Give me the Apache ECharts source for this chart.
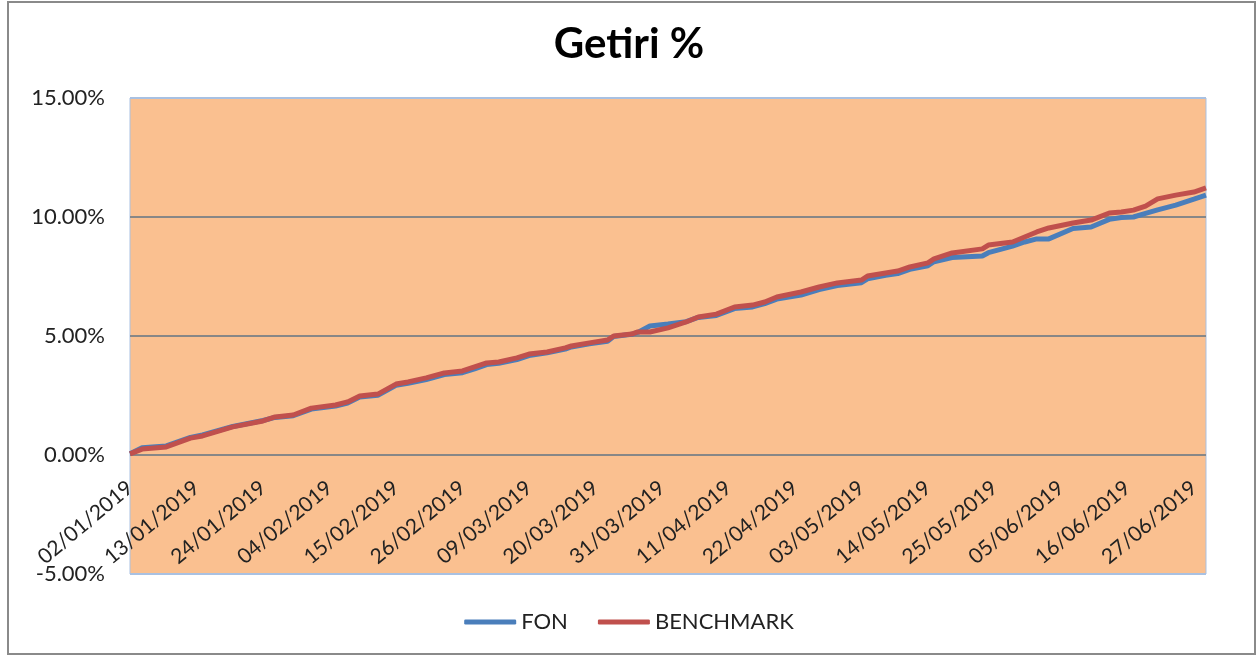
<!DOCTYPE html>
<html>
<head>
<meta charset="utf-8">
<script src="https://cdn.jsdelivr.net/npm/echarts@6/dist/echarts.min.js"></script>
<style>
html,body{margin:0;padding:0;background:#fff;}
#chart{width:1258px;height:657px;}
</style>
</head>
<body>
<div id="chart"></div>
<script>
const title = 'Getiri %';
const seriesNames = ['FON', 'BENCHMARK'];
const startDate = '02/01/2019';
const endDate = '29/06/2019';
const tickLabels = ['02/01/2019','13/01/2019','24/01/2019','04/02/2019','15/02/2019','26/02/2019','09/03/2019','20/03/2019','31/03/2019','11/04/2019','22/04/2019','03/05/2019','14/05/2019','25/05/2019','05/06/2019','16/06/2019','27/06/2019'];
const yTicks = [-5, 0, 5, 10, 15];
const dates = ['02/01/2019','04/01/2019','08/01/2019','12/01/2019','14/01/2019','19/01/2019','24/01/2019','26/01/2019','29/01/2019','01/02/2019',
'05/02/2019','07/02/2019','09/02/2019','12/02/2019','15/02/2019','17/02/2019','20/02/2019','23/02/2019','26/02/2019','28/02/2019',
'02/03/2019','04/03/2019','07/03/2019','09/03/2019','12/03/2019','15/03/2019','16/03/2019','19/03/2019','22/03/2019','23/03/2019',
'26/03/2019','27/03/2019','29/03/2019','01/04/2019','04/04/2019','06/04/2019','09/04/2019','12/04/2019','15/04/2019','17/04/2019',
'19/04/2019','23/04/2019','26/04/2019','29/04/2019','03/05/2019','04/05/2019','07/05/2019','09/05/2019','11/05/2019','14/05/2019',
'15/05/2019','18/05/2019','23/05/2019','24/05/2019','28/05/2019','30/05/2019','01/06/2019','03/06/2019','07/06/2019','10/06/2019',
'13/06/2019','15/06/2019','17/06/2019','19/06/2019','21/06/2019','24/06/2019','27/06/2019','29/06/2019'];
const fon = [0.05,0.30,0.38,0.74,0.84,1.20,1.45,1.58,1.65,1.93,
2.06,2.18,2.44,2.51,2.93,3.01,3.17,3.38,3.46,3.62,
3.80,3.85,4.01,4.18,4.29,4.45,4.54,4.67,4.78,4.98,
5.07,5.15,5.42,5.50,5.60,5.78,5.86,6.15,6.22,6.36,
6.55,6.72,6.95,7.12,7.24,7.40,7.55,7.62,7.80,7.95,
8.12,8.30,8.36,8.50,8.78,8.95,9.08,9.08,9.52,9.58,
9.90,9.98,10.00,10.15,10.30,10.50,10.75,10.92];
const benchmark = [0.05,0.25,0.34,0.71,0.80,1.18,1.43,1.60,1.68,1.97,
2.10,2.23,2.48,2.56,2.98,3.07,3.24,3.45,3.53,3.70,
3.87,3.91,4.08,4.24,4.33,4.50,4.58,4.71,4.83,5.00,
5.08,5.17,5.17,5.34,5.59,5.80,5.92,6.22,6.30,6.43,
6.64,6.85,7.06,7.23,7.35,7.52,7.65,7.73,7.90,8.07,
8.24,8.49,8.66,8.82,8.95,9.16,9.37,9.54,9.75,9.87,
10.17,10.21,10.29,10.46,10.76,10.92,11.05,11.22];

function toDay(s){
  const p = s.split('/');
  return Date.UTC(+p[2], +p[1]-1, +p[0]) / 86400000;
}
const d0 = toDay(startDate);
const dayIdx = s => toDay(s) - d0;
const labelMap = {};
tickLabels.forEach(l => { labelMap[dayIdx(l)] = l; });

const gridTop = 98, gridBottom = 83, chartH = 657;
const plotH = chartH - gridTop - gridBottom;
const zeroOffset = -plotH * (0 - yTicks[0]) / (yTicks[yTicks.length-1] - yTicks[0]);

const chart = echarts.init(document.getElementById('chart'));
const font = 'Lato, "Liberation Sans", sans-serif';
chart.setOption({
  animation: false,
  backgroundColor: '#ffffff',
  textStyle: { fontFamily: font },
  title: {
    text: title, left: 'center', top: 18,
    textStyle: { fontFamily: font, fontWeight: 'bold', fontSize: 42, color: '#000' }
  },
  graphic: [{
    type: 'rect', silent: true, z: 100,
    shape: { x: 8, y: 2, width: 1247, height: 652 },
    style: { fill: 'none', stroke: '#8a8a8a', lineWidth: 2 }
  }],
  legend: {
    data: seriesNames, top: 606, left: 'center',
    icon: 'roundRect', itemWidth: 52, itemHeight: 5, itemGap: 30,
    textStyle: { fontFamily: font, fontSize: 22, color: '#222' }
  },
  grid: {
    left: 130, right: 52, top: gridTop, bottom: gridBottom,
    show: true, backgroundColor: '#FAC090', borderColor: '#A9C1E2', borderWidth: 1
  },
  xAxis: {
    type: 'value', min: 0, max: dayIdx(endDate), interval: 11,
    position: 'bottom', offset: zeroOffset,
    axisLine: { show: false, onZero: false },
    axisTick: { show: false },
    splitLine: { show: false },
    axisLabel: {
      rotate: 40, margin: 30, fontSize: 21, color: '#222', fontFamily: font,
      formatter: v => labelMap[Math.round(v)] || ''
    }
  },
  yAxis: {
    type: 'value', min: yTicks[0], max: yTicks[yTicks.length-1], interval: 5,
    axisLine: { show: false }, axisTick: { show: false },
    splitLine: { lineStyle: { color: ['#A9C1E2','#878787','#878787','#878787','#A9C1E2'], width: 2 } },
    axisLabel: { margin: 25, fontSize: 22, color: '#222', fontFamily: font, formatter: v => v.toFixed(2) + '%' }
  },
  series: [
    { name: seriesNames[0], type: 'line', showSymbol: false, symbol: 'none',
      data: dates.map((d,i) => [dayIdx(d), fon[i]]),
      lineStyle: { color: '#4A7EBB', width: 5 }, itemStyle: { color: '#4A7EBB' } },
    { name: seriesNames[1], type: 'line', showSymbol: false, symbol: 'none',
      data: dates.map((d,i) => [dayIdx(d), benchmark[i]]),
      lineStyle: { color: '#C0504D', width: 5 }, itemStyle: { color: '#C0504D' } }
  ]
});
</script>
</body>
</html>
